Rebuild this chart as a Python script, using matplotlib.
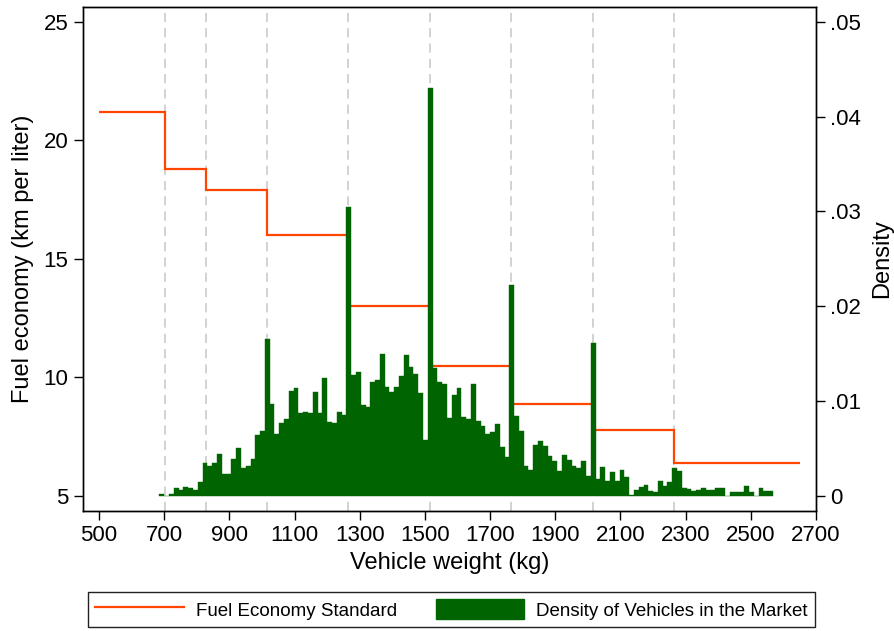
import numpy as np
import matplotlib
matplotlib.use('Agg')
import matplotlib.pyplot as plt
from matplotlib.lines import Line2D
from matplotlib.patches import Patch

plt.rcParams['font.family'] = ['Liberation Sans', 'DejaVu Sans']

# fuel economy standard by weight class (km/l)
weight_breaks = [500, 702.5, 827.5, 1015.5, 1265.5, 1515.5, 1765.5, 2015.5, 2265.5, 2650]
standard_kmpl = [21.2, 18.8, 17.9, 16.0, 13.0, 10.5, 8.9, 7.8, 6.4]

# histogram of vehicle weights (density)
hist_start = 685.5
hist_width = 250 / 17
density = [
    0.00018, 0.0, 0.00018, 0.00081, 0.00063, 0.00098, 0.00081, 0.00063, 0.00145, 0.00351,
    0.00316, 0.00348, 0.00443, 0.00229, 0.00229, 0.00387, 0.00503, 0.00299, 0.00316, 0.00387,
    0.00643, 0.00686,
    0.01653,
    0.00967, 0.00651, 0.00767, 0.00812, 0.01108, 0.01142, 0.00879, 0.00889, 0.00872, 0.01100,
    0.00872, 0.01242, 0.00784, 0.00767, 0.00889, 0.00854,
    0.03049,
    0.01276, 0.01308, 0.00960, 0.00939, 0.01203, 0.01224, 0.01498, 0.01150, 0.01097, 0.01150,
    0.01266, 0.01487, 0.01361, 0.01287, 0.01087, 0.00591,
    0.04304,
    0.01350, 0.01203, 0.01181, 0.00823, 0.01065, 0.01139, 0.00833, 0.00812, 0.01181, 0.00791,
    0.00738, 0.00654, 0.00675, 0.00759, 0.00517, 0.00411,
    0.02226,
    0.00844, 0.00686, 0.00316, 0.00274, 0.00538, 0.00580, 0.00527, 0.00422, 0.00369, 0.00264,
    0.00432, 0.00380, 0.00316, 0.00295, 0.00369, 0.00211,
    0.01614,
    0.00179, 0.00306, 0.00158, 0.00253, 0.00158, 0.00274, 0.00200, 0.00011, 0.00063, 0.00098,
    0.00116, 0.00056, 0.00042, 0.00158, 0.00105, 0.00148,
    0.00295, 0.00264, 0.00088, 0.00071, 0.00056, 0.00063, 0.00088, 0.00063, 0.00063, 0.00088,
    0.00088, 0.0, 0.00045, 0.00045, 0.00045, 0.00102, 0.00042, 0.0, 0.00081, 0.00053,
    0.00053,
]

x_ticks = list(range(500, 2701, 200))
left_ticks = [5, 10, 15, 20, 25]
right_ticks = [0, .01, .02, .03, .04, .05]
right_labels = ['0', '.01', '.02', '.03', '.04', '.05']

red = '#ff4500'
green = '#006400'

fig = plt.figure(figsize=(8.95, 6.31), dpi=100)
ax = fig.add_axes([0.0924, 0.1906, 0.8193, 0.7988])
ax2 = ax.twinx()

for w in weight_breaks[1:-1]:
    ax.axvline(w, color='#c6c6c6', lw=1.1, ls=(0, (6, 4)), zorder=1)
ax.stairs(standard_kmpl, weight_breaks, baseline=None, color=red, lw=1.6, zorder=2)

edges = hist_start + hist_width * np.arange(len(density) + 1)
ax2.bar(edges[:-1], density, width=hist_width, align='edge',
        color=green, edgecolor=green, linewidth=0.3)

ylo, yhi = 4.38, 25.63
ax.set_xlim(450, 2700)
ax.set_ylim(ylo, yhi)
ax2.set_ylim((ylo - 5) / 400, (yhi - 5) / 400)

ax.set_xticks(x_ticks)
ax.set_yticks(left_ticks)
ax2.set_yticks(right_ticks)
ax2.set_yticklabels(right_labels)

for a in (ax, ax2):
    a.tick_params(length=6.7, width=1, pad=3.6, labelsize=16)
    for s in a.spines.values():
        s.set_linewidth(1.0)

ax.set_xlabel('Vehicle weight (kg)', fontsize=17, labelpad=4)
ax.set_ylabel('Fuel economy (km per liter)', fontsize=17, labelpad=7)
ax2.set_ylabel('Density', fontsize=17, labelpad=7)

handles = [Line2D([], [], color=red, lw=1.6),
           Patch(facecolor=green, edgecolor=green)]
leg = fig.legend(handles, ['Fuel Economy Standard', 'Density of Vehicles in the Market'],
                 loc='lower left', bbox_to_anchor=(0.0983, 0.0063, 0.8123, 0.0634),
                 mode='expand', ncol=2, fontsize=13.5, handlelength=4.7,
                 handleheight=1.3, handletextpad=0.64, borderaxespad=0,
                 fancybox=False, edgecolor='#222222', framealpha=1)
leg.get_frame().set_linewidth(1.0)

fig.savefig('out.png', dpi=100)
